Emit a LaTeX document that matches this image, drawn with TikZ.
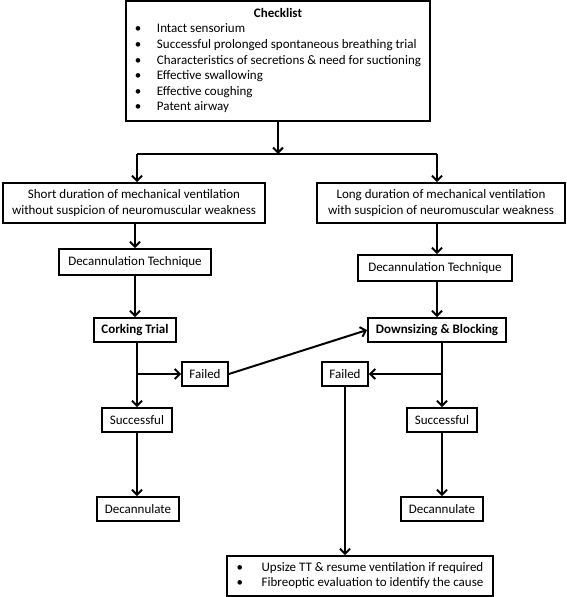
\documentclass[tikz,border=0pt]{standalone}
\usepackage{fontspec}
\setmainfont{Carlito}
\usetikzlibrary{arrows.meta}
\tikzset{
  box/.style={draw, line width=1.8pt, inner sep=0pt, align=center, font=\fontsize{13}{15.6}\selectfont},
  boldbox/.style={box, font=\fontsize{13}{15.6}\selectfont\bfseries},
  conn/.style={line width=2pt},
  arr/.style={conn, -{Straight Barb[length=5pt,width=10pt,line width=2pt]}}
}
\begin{document}
\begin{tikzpicture}[x=1pt,y=-1pt]
\useasboundingbox (0,0) rectangle (567,597);
\node[box, minimum width=304pt, minimum height=120pt] (check) at (278,61) {%
\begin{tabular}{@{}p{22pt}@{}l@{}}
\multicolumn{2}{c}{\textbf{Checklist}}\\
\textbullet & Intact sensorium\\
\textbullet & Successful prolonged spontaneous breathing trial\\
\textbullet & Characteristics of secretions \& need for suctioning\\
\textbullet & Effective swallowing\\
\textbullet & Effective coughing\\
\textbullet & Patent airway
\end{tabular}};
\node[box, minimum width=262pt, minimum height=40pt] (L1) at (134,203) {Short duration of mechanical ventilation\\without suspicion of neuromuscular weakness};
\node[box, minimum width=248pt, minimum height=40pt] (R1) at (441,203) {Long duration of mechanical ventilation\\with suspicion of neuromuscular weakness};
\node[box, minimum width=152pt, minimum height=26pt] (L2) at (135,262) {Decannulation Technique};
\node[box, minimum width=154pt, minimum height=26pt] (R2) at (435,268) {Decannulation Technique};
\node[boldbox, minimum width=82pt, minimum height=24pt] (L3) at (135,330) {Corking Trial};
\node[boldbox, minimum width=138pt, minimum height=24pt] (R3) at (437,330) {Downsizing \& Blocking};
\node[box, minimum width=46pt, minimum height=24pt] (FailL) at (205,374) {Failed};
\node[box, minimum width=46pt, minimum height=24pt] (FailR) at (345,374) {Failed};
\node[box, minimum width=70pt, minimum height=24pt] (SuccL) at (137,420) {Successful};
\node[box, minimum width=70pt, minimum height=24pt] (SuccR) at (442,420) {Successful};
\node[box, minimum width=82pt, minimum height=24pt] (DecL) at (138,509) {Decannulate};
\node[box, minimum width=82pt, minimum height=24pt] (DecR) at (442,509) {Decannulate};
\node[box, minimum width=266pt, minimum height=40pt] (bot) at (360,576) {%
\begin{tabular}{@{}p{25pt}@{}l@{}}
\textbullet & Upsize TT \& resume ventilation if required\\
\textbullet & Fibreoptic evaluation to identify the cause
\end{tabular}};
\coordinate (j) at (278,154);
\coordinate (jl) at (137,154);
\coordinate (jr) at (437,154);
\draw[arr] (check.south) -- (j);
\draw[conn] (jl) -- (jr);
\draw[arr] (jl) -- (jl |- L1.north);
\draw[arr] (jr) -- (jr |- R1.north);
\draw[arr] (L2.north |- L1.south) -- (L2.north);
\draw[arr] (R1.south -| jr) -- (R2.north -| jr);
\draw[arr] (L2.south) -- (L3.north);
\draw[arr] (R2.south -| jr) -- (R3.north);
\draw[arr] (SuccL.north |- L3.south) -- (SuccL.north);
\draw[arr] (SuccL.north |- FailL.west) -- (FailL.west);
\draw[arr] (FailL.east) -- (R3.west);
\draw[arr] (SuccR.north |- R3.south) -- (SuccR.north);
\draw[arr] (SuccR.north |- FailR.east) -- (FailR.east);
\draw[arr] (SuccL.south) -- (DecL.north -| SuccL.south);
\draw[arr] (SuccR.south) -- (DecR.north -| SuccR.south);
\draw[arr] (FailR.south) -- (FailR.south |- bot.north);
\end{tikzpicture}
\end{document}
